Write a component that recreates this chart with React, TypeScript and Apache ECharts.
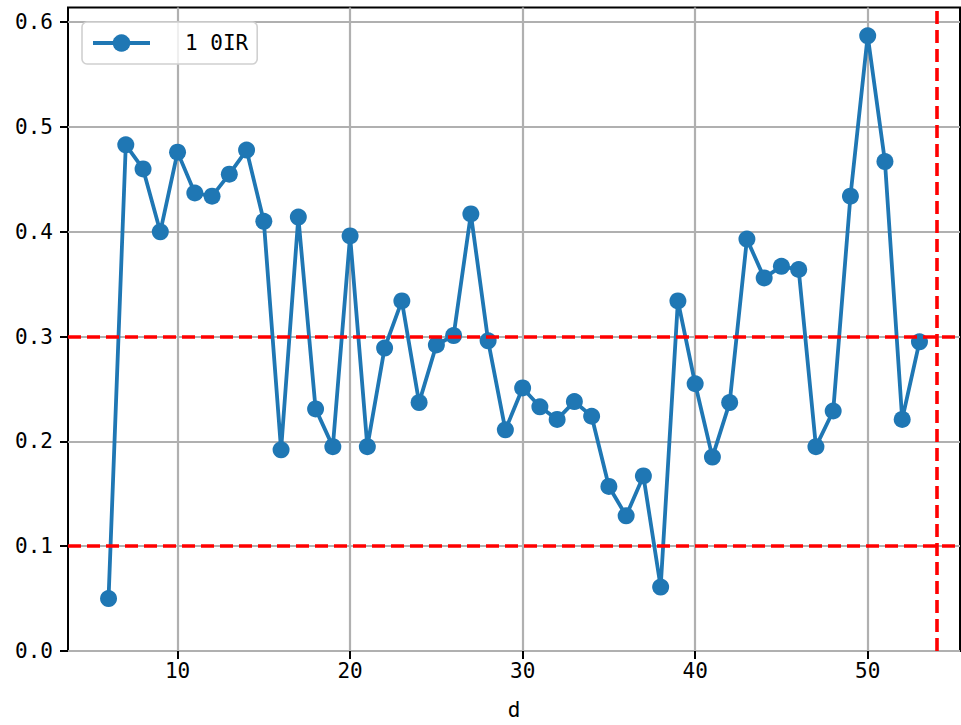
import React, { useEffect, useRef } from "react";
import * as echarts from "echarts";

const xValues = [6, 7, 8, 9, 10, 11, 12, 13, 14, 15, 16, 17, 18, 19, 20, 21, 22, 23, 24, 25, 26, 27, 28, 29, 30, 31, 32, 33, 34, 35, 36, 37, 38, 39, 40, 41, 42, 43, 44, 45, 46, 47, 48, 49, 50, 51, 52, 53];
const yValues = [0.050, 0.483, 0.460, 0.400, 0.476, 0.437, 0.434, 0.455, 0.478, 0.410, 0.192, 0.414, 0.231, 0.195, 0.396, 0.195, 0.289, 0.334, 0.237, 0.292, 0.301, 0.417, 0.296, 0.211, 0.251, 0.233, 0.221, 0.238, 0.224, 0.157, 0.129, 0.167, 0.061, 0.334, 0.255, 0.185, 0.237, 0.393, 0.356, 0.367, 0.364, 0.195, 0.229, 0.434, 0.587, 0.467, 0.221, 0.295];
const xTicks = [10, 20, 30, 40, 50];
const yTicks = [0, 0.1, 0.2, 0.3, 0.4, 0.5, 0.6];
const hLines = [0.1, 0.3];
const vLines = [54];
const seriesName = "1 0IR";
const xName = "d";

const FONT = "'DejaVu Sans Mono', 'Liberation Mono', monospace";
const FS = 21;

export default function App() {
  const ref = useRef<HTMLDivElement>(null);
  useEffect(() => {
    if (!ref.current) return;
    const chart = echarts.init(ref.current, undefined, { renderer: "svg" });
    const data = xValues.map((x, i) => [x, yValues[i]]);
    const redLine = { color: "#ff0000", width: 3.6, type: [13, 6] as any };
    chart.setOption({
      animation: false,
      backgroundColor: "#ffffff",
      textStyle: { fontFamily: FONT },
      grid: {
        left: 68,
        right: 1,
        top: 7.5,
        bottom: 69.5,
        show: true,
        borderColor: "#000000",
        borderWidth: 2,
        backgroundColor: "transparent",
      },
      legend: {
        data: [seriesName],
        left: 82,
        top: 22,
        orient: "vertical",
        padding: [9, 9, 9, 9],
        itemWidth: 57,
        itemHeight: 22,
        lineStyle: { width: 4 },
        borderColor: "#d0d0d0",
        borderWidth: 1.6,
        borderRadius: 5,
        backgroundColor: "rgba(255,255,255,0.8)",
        textStyle: { fontSize: FS, lineHeight: 24, color: "#000000", fontFamily: FONT, padding: [0, 0, 0, 30] },
      },
      xAxis: {
        type: "value",
        min: 3.65,
        max: 55.35,
        name: xName,
        nameLocation: "middle",
        nameGap: 48,
        nameTextStyle: { fontSize: FS, color: "#000000", fontFamily: FONT },
        axisLine: { show: false },
        axisTick: { show: true, customValues: xTicks, length: 8, lineStyle: { color: "#000000", width: 2 } },
        axisLabel: { customValues: xTicks, fontSize: FS, color: "#000000", margin: 9, fontFamily: FONT },
        splitLine: { show: true, lineStyle: { color: "#b0b0b0", width: 2.2 } },
      },
      yAxis: {
        type: "value",
        min: 0,
        max: 0.614,
        axisLine: { show: false },
        axisTick: { show: true, customValues: yTicks, length: 8, lineStyle: { color: "#000000", width: 2 } },
        axisLabel: {
          customValues: yTicks,
          fontSize: FS,
          color: "#000000",
          margin: 15,
          fontFamily: FONT,
          formatter: (v: number) => v.toFixed(1),
        },
        splitLine: { show: true, lineStyle: { color: "#b0b0b0", width: 2.2 } },
      },
      series: [
        {
          name: "refs",
          type: "line",
          data: [],
          z: 1,
          silent: true,
          markLine: {
            silent: true,
            symbol: "none",
            label: { show: false },
            lineStyle: redLine,
            data: [
              ...hLines.map((v) => ({ yAxis: v, lineStyle: redLine })),
              ...vLines.map((v) => ({ xAxis: v, lineStyle: redLine })),
            ],
          },
        },
        {
          name: seriesName,
          type: "line",
          data,
          z: 3,
          color: "#1f77b4",
          symbol: "circle",
          symbolSize: 17,
          showSymbol: true,
          lineStyle: { width: 3.8, color: "#1f77b4" },
          itemStyle: { color: "#1f77b4" },
        },
      ],
    });
    return () => chart.dispose();
  }, []);
  return <div ref={ref} style={{ position: "absolute", left: 0, top: 0, width: 961, height: 725 }} />;
}
